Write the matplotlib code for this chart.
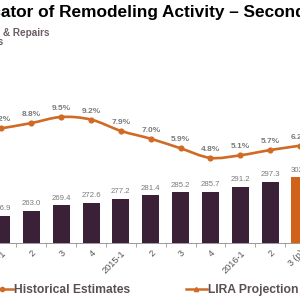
import numpy as np
import matplotlib
matplotlib.use("Agg")
import matplotlib.pyplot as plt
from matplotlib.path import Path
from matplotlib.patches import PathPatch
from matplotlib.lines import Line2D
from matplotlib.font_manager import FontProperties

plt.rcParams['font.family'] = ['Liberation Sans', 'DejaVu Sans']

# data
quarters = ["2014-1", "2", "3", "4", "2015-1", "2", "3", "4", "2016-1", "2", "3 (p)"]
spending = [256.9, 263.0, 269.4, 272.6, 277.2, 281.4, 285.2, 285.7, 291.2, 297.3, 302.5]
spending_labels = ["256.9", "263.0", "269.4", "272.6", "277.2", "281.4", "285.2", "285.7", "291.2", "297.3", "302.5"]
growth = [8.2, 8.8, 9.5, 9.2, 7.9, 7.0, 5.9, 4.8, 5.1, 5.7, 6.2]
projected = [False] * 10 + [True]

purple = '#3b2138'
orange = '#d2621a'
line_col = '#d06a25'

W = H = 300
fig = plt.figure(figsize=(3, 3), dpi=100)
ax = fig.add_axes([0, 57 / H, 1, 220 / H])

x = np.arange(len(quarters))
colors = [orange if p else purple for p in projected]
ax.bar(x, [v - 225 for v in spending], bottom=225, width=0.57, color=colors)
for xi, v, lab in zip(x, spending, spending_labels):
    ax.annotate(lab, (xi, v), xytext=(0, 2.5), textcoords='offset points',
                ha='center', va='bottom', fontsize=5.6, color='#7a7a7a')

ax.set_xlim(-0.05, 10.0)
ax.set_ylim(225, 225 + 1.18 * 220)
ax.set_xticks(x)
ax.set_xticklabels(quarters, rotation=45, ha='right', rotation_mode='anchor',
                   fontsize=6.6, color='#555555')
ax.tick_params(axis='x', which='major', length=0, pad=4)
ax.set_xticks(x[:-1] + 0.5, minor=True)
ax.tick_params(axis='x', which='minor', length=3, color='#999999', width=0.6)
ax.set_yticks([])
for s in ['top', 'left', 'right']:
    ax.spines[s].set_visible(False)
ax.spines['bottom'].set_color('#999999')
ax.spines['bottom'].set_linewidth(0.7)

# growth line on its own scale, drawn smoothed
ax2 = ax.twinx()
ax2.set_ylim(-4.98, 20.3)
ax2.set_axis_off()
pts = np.column_stack([x, growth]).astype(float)
verts = [tuple(pts[0])]
codes = [Path.MOVETO]
n = len(pts)
for i in range(n - 1):
    p0 = pts[i - 1] if i > 0 else pts[i]
    p1, p2 = pts[i], pts[i + 1]
    p3 = pts[i + 2] if i + 2 < n else pts[i + 1]
    c1 = p1 + (p2 - p0) / 6
    c2 = p2 - (p3 - p1) / 6
    verts += [tuple(c1), tuple(c2), tuple(p2)]
    codes += [Path.CURVE4] * 3
ax2.add_patch(PathPatch(Path(verts, codes), fill=False, edgecolor=line_col, lw=1.9))
ax2.plot(x, growth, 'o', color=line_col, ms=3.4)
for xi, g in zip(x, growth):
    ax2.annotate(f"{g:.1f}%", (xi, g), xytext=(0, 3.5), textcoords='offset points',
                 ha='center', va='bottom', fontsize=6, fontweight='bold', color='#7a7a7a')

# title and subtitle (cropped at the left edge)
renderer = fig.canvas.get_renderer()
def place_left(text, hidden_prefix, xpix, ypix, **kw):
    fp = FontProperties(family='Liberation Sans', size=kw['fontsize'], weight=kw.get('fontweight', 'normal'))
    w, _, _ = renderer.get_text_width_height_descent(hidden_prefix, fp, ismath=False)
    fig.text((xpix - w) / W, ypix / H, text, va='baseline', ha='left', **kw)

place_left("Leading Indicator of Remodeling Activity \u2013 Second Quarter 2016", "Leading Indic",
           0.5, H - 17, fontsize=12.4, fontweight='bold', color='black')
place_left("Four-Quarter Moving Totals: Homeowner Improvements & Repairs",
           "Four-Quarter Moving Totals: Homeowner Improvements ",
           3, H - 36, fontsize=7.2, fontweight='bold', color='#6b5d68')
fig.text(3.5 / W, (H - 45.5) / H, "Billions of Dollars", ha='right', va='baseline',
         fontsize=7.2, fontweight='bold', color='#6b5d68')

handles = [Line2D([], [], color=line_col, lw=1.8, marker='o', ms=3),
           Line2D([], [], color=line_col, lw=1.8, marker='^', ms=3)]
fig.legend(handles, ["Historical Estimates", "LIRA Projection"], ncol=2, frameon=False,
           loc='center left', bbox_to_anchor=(-8 / W, 10 / H), borderpad=0, borderaxespad=0,
           handlelength=1.7, handletextpad=0.15, columnspacing=4.6,
           prop={'family': 'Liberation Sans', 'weight': 'bold', 'size': 8.7}, labelcolor='#5a5052')

fig.savefig("out.png", dpi=100)
